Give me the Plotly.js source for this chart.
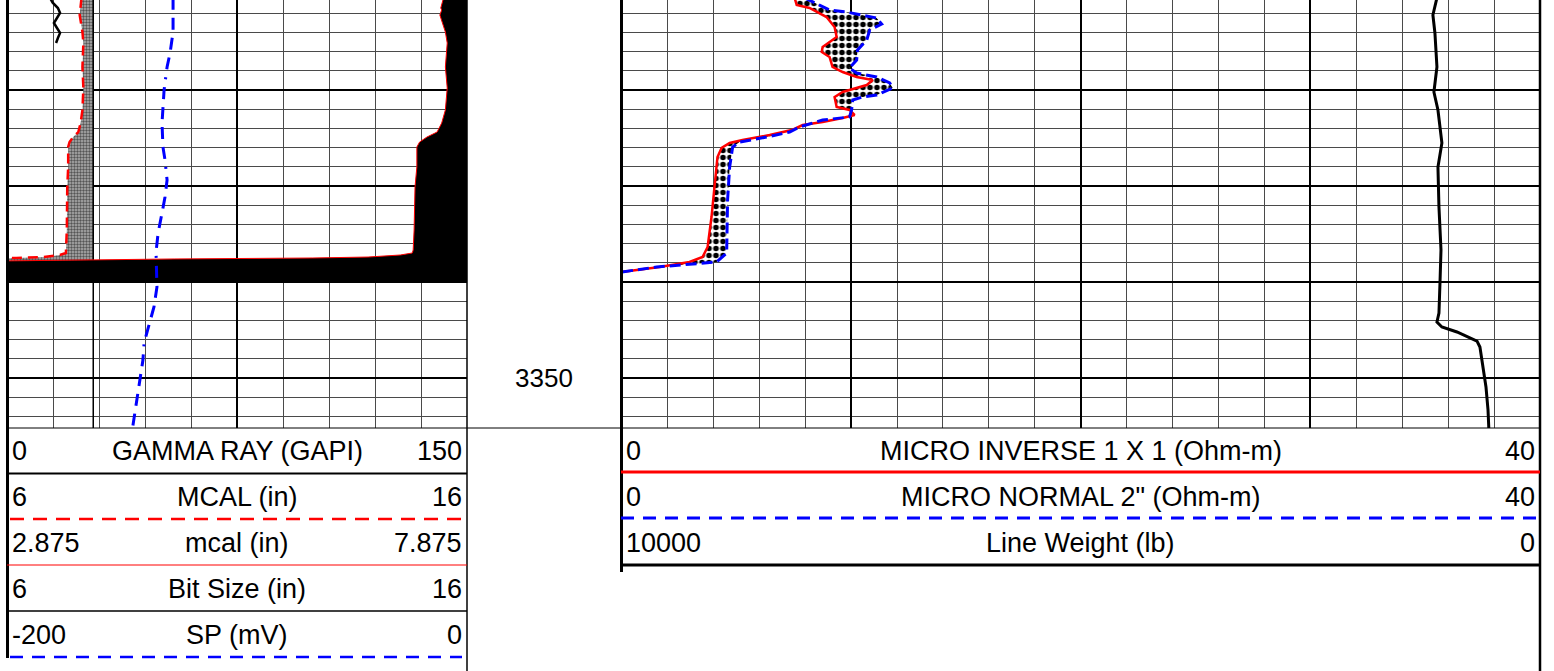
<!DOCTYPE html>
<html><head><meta charset="utf-8">
<script src="https://cdn.plot.ly/plotly-3.0.1.min.js"></script>
<style>html,body{margin:0;padding:0;background:#fff;overflow:hidden}#chart{width:1554px;height:671px}</style>
</head><body><div id="chart"></div>
<script>
// ---------------- data ----------------
var gammaDepth = [3310.4, 3310.9, 3311.46, 3311.98, 3312.5, 3313.02, 3313.54, 3314.06, 3314.58, 3315.1];
var gammaValue = [14.0, 14.9, 16.6, 17.3, 16.3, 15.3, 16.3, 17.3, 16.6, 16.0];

var calDepth = [3310.4, 3311.46, 3311.67, 3312.19, 3313.96, 3315.10, 3317.60, 3319.79, 3322.08, 3323.44, 3324.38, 3324.90, 3325.42, 3325.94, 3328.02, 3330.10, 3334.58, 3336.67, 3336.98, 3337.19, 3337.40, 3337.50, 3337.60, 3337.71, 3337.81, 3340.10];
var calValue = [7.62, 7.59, 7.60, 7.58, 7.64, 7.66, 7.64, 7.66, 7.64, 7.60, 7.55, 7.44, 7.36, 7.33, 7.33, 7.31, 7.30, 7.29, 7.28, 7.15, 6.80, 6.20, 4.70, 3.60, 2.80, 2.70];

var bitDepth = [3310.4, 3355.5];
var bitValue = [7.875, 7.875];

var spDepth = [3310.4, 3313.96, 3316.15, 3317.60, 3320.0, 3321.77, 3323.44, 3325.94, 3327.29, 3329.38, 3331.15, 3332.81, 3334.90, 3336.88, 3340.52, 3342.60, 3345.00, 3346.35, 3348.13, 3350.21, 3352.29, 3354.69, 3355.5];
var spValue = [-127.8, -127.8, -129.1, -130.4, -131.7, -132.2, -132.6, -132.2, -131.3, -130.4, -131.3, -132.6, -134.3, -135.2, -134.8, -136.1, -138.7, -140.4, -140.9, -142.2, -143.5, -145.2, -145.6];

var minvDepth = [3310.4, 3311.15, 3311.46, 3312.40, 3313.44, 3314.48, 3315.52, 3316.04, 3316.56, 3317.60, 3318.13, 3318.65, 3318.96, 3319.48, 3320.21, 3320.73, 3321.77, 3322.08, 3322.60, 3322.92, 3323.33, 3323.65, 3324.17, 3324.69, 3325.21, 3325.52, 3326.04, 3326.98, 3330.10, 3333.23, 3336.35, 3337.40, 3337.92, 3338.44, 3338.96];
var minvValue = [7.54, 7.63, 8.19, 8.93, 9.28, 9.37, 8.76, 8.72, 9.06, 9.19, 9.63, 10.24, 10.94, 10.68, 9.63, 9.28, 9.37, 9.93, 10.15, 9.63, 8.76, 7.89, 7.41, 6.45, 5.27, 4.71, 4.36, 4.18, 4.05, 3.92, 3.75, 3.53, 2.96, 1.66, 0.0];

var mnorDepth = [3310.4, 3311.67, 3311.88, 3312.19, 3312.50, 3313.13, 3313.75, 3314.79, 3315.83, 3316.88, 3317.71, 3318.23, 3318.65, 3319.27, 3319.79, 3320.52, 3320.73, 3321.04, 3322.08, 3322.81, 3323.13, 3323.85, 3324.38, 3324.90, 3325.42, 3325.94, 3328.02, 3331.46, 3336.98, 3337.92, 3338.23, 3338.44, 3338.96];
var mnorValue = [7.97, 9.06, 9.80, 10.50, 11.11, 11.33, 10.81, 10.68, 10.28, 10.24, 9.93, 10.24, 11.11, 11.68, 11.81, 11.11, 10.50, 10.07, 10.02, 9.93, 8.76, 7.76, 7.32, 6.32, 5.14, 4.84, 4.71, 4.62, 4.58, 4.14, 2.66, 1.53, 0.0];

var lwDepth = [3310.4, 3311.35, 3312.19, 3314.06, 3317.60, 3320.21, 3322.08, 3325.52, 3328.02, 3332.19, 3336.67, 3340.10, 3343.23, 3344.17, 3344.69, 3345.21, 3346.15, 3346.77, 3348.85, 3350.94, 3353.33, 3355.5];
var lwValue = [1122, 1144, 1166, 1144, 1122, 1155, 1111, 1068, 1111, 1100, 1078, 1089, 1100, 1122, 1068, 904, 686, 654, 621, 588, 566, 556];

// scales
var gammaScale = [0, 150];
var mcalBigScale = [6, 16];
var mcalSmallScale = [2.875, 7.875];
var spScale = [-200, 0];
var microScale = [0, 40];
var lwScale = [10000, 0];
var depthRange = [3355.21, 3310.625];
var depthLabels = [3350];

// header labels
var leftLo = ['0', '6', '2.875', '6', '-200'];
var leftNames = ['GAMMA RAY (GAPI)', 'MCAL (in)', 'mcal (in)', 'Bit Size (in)', 'SP (mV)'];
var leftHi = ['150', '16', '7.875', '16', '0'];
var rightLo = ['0', '0', '10000'];
var rightNames = ['MICRO INVERSE 1 X 1 (Ohm-m)', 'MICRO NORMAL 2" (Ohm-m)', 'Line Weight (lb)'];
var rightHi = ['40', '40', '0'];

// ---------------- layout helpers ----------------
var W = 1554, H = 671;
function px(x) { return x / W; }
function py(y) { return 1 - y / H; }
var FONT = 'Liberation Sans, Arial, sans-serif';
var MINOR = '#4a4a4a';

var traces = [
  {x: gammaValue, y: gammaDepth, xaxis: 'x', yaxis: 'y', mode: 'lines', line: {color: '#000', width: 2.5}, hoverinfo: 'skip'},
  {x: calDepth.map(function(){return bitValue[0];}), y: calDepth, xaxis: 'x2', yaxis: 'y', mode: 'lines', line: {width: 0}, hoverinfo: 'skip'},
  {x: calValue, y: calDepth, xaxis: 'x2', yaxis: 'y', mode: 'lines', fill: 'tonextx', fillcolor: '#8c8c8c',
   fillpattern: {shape: '.', size: 3, solidity: 0.5, fgcolor: '#555', bgcolor: '#b0b0b0'},
   line: {color: '#ff0000', width: 2.5, dash: '10px,6px'}, hoverinfo: 'skip'},
  {x: bitValue, y: bitDepth, xaxis: 'x2', yaxis: 'y', mode: 'lines', line: {color: '#000', width: 1.5}, hoverinfo: 'skip'},
  {x: calDepth.map(function(){return mcalSmallScale[1];}), y: calDepth, xaxis: 'x3', yaxis: 'y', mode: 'lines', line: {width: 0}, hoverinfo: 'skip'},
  {x: calValue, y: calDepth, xaxis: 'x3', yaxis: 'y', mode: 'lines', fill: 'tonextx', fillcolor: '#000', line: {color: '#ff0000', width: 1}, hoverinfo: 'skip'},
  {x: spValue, y: spDepth, xaxis: 'x4', yaxis: 'y', mode: 'lines', line: {color: '#0000ff', width: 3, dash: '12px,8px,12px,8px,12px,8px,12px,8px,2px,8px'}, hoverinfo: 'skip'},
  {x: minvValue, y: minvDepth, xaxis: 'x5', yaxis: 'y2', mode: 'lines', line: {color: '#ff0000', width: 2.5}, hoverinfo: 'skip'},
  {x: mnorValue, y: mnorDepth, xaxis: 'x5', yaxis: 'y2', mode: 'lines', fill: 'tonextx', fillcolor: '#fff',
   fillpattern: {shape: '.', size: 7, solidity: 0.5, fgcolor: '#000', bgcolor: '#fff'},
   line: {color: '#0000ff', width: 3, dash: '11px,5px'}, hoverinfo: 'skip'},
  {x: lwValue, y: lwDepth, xaxis: 'x6', yaxis: 'y2', mode: 'lines', line: {color: '#000', width: 3}, hoverinfo: 'skip'}
];

function gridAxis(extra) {
  var a = {showticklabels: false, ticks: '', zeroline: false, showline: false, showgrid: true,
    gridcolor: '#000', gridwidth: 2, fixedrange: true};
  for (var k in extra) a[k] = extra[k];
  return a;
}
var hidden = function(extra){ var a = {visible: false, fixedrange: true, showgrid: false, zeroline: false}; for (var k in extra) a[k] = extra[k]; return a; };

var yDomain = [py(428), 1];
var layout = {
  width: W, height: H, margin: {l: 0, r: 0, t: 0, b: 0},
  paper_bgcolor: '#fff', plot_bgcolor: 'rgba(0,0,0,0)', showlegend: false,
  xaxis: gridAxis({domain: [px(7), px(467)], range: gammaScale, anchor: 'y', tick0: 0, dtick: 75,
    minor: {tick0: 0, dtick: 15, showgrid: true, gridcolor: MINOR, gridwidth: 1, ticks: ''}}),
  xaxis2: hidden({overlaying: 'x', anchor: 'y', range: mcalBigScale}),
  xaxis3: hidden({overlaying: 'x', anchor: 'y', range: mcalSmallScale}),
  xaxis4: hidden({overlaying: 'x', anchor: 'y', range: spScale}),
  xaxis5: gridAxis({domain: [px(621.5), px(1540)], range: microScale, anchor: 'y2', tick0: 0, dtick: 10,
    minor: {tick0: 0, dtick: 2, showgrid: true, gridcolor: MINOR, gridwidth: 1, ticks: ''}}),
  xaxis6: hidden({overlaying: 'x5', anchor: 'y2', range: lwScale}),
  yaxis: gridAxis({domain: yDomain, range: depthRange, anchor: 'x', tick0: 3300, dtick: 10,
    minor: {tick0: 3300, dtick: 2, showgrid: true, gridcolor: MINOR, gridwidth: 1, ticks: ''}}),
  yaxis2: gridAxis({domain: yDomain, range: depthRange, anchor: 'x5', tick0: 3300, dtick: 10,
    minor: {tick0: 3300, dtick: 2, showgrid: true, gridcolor: MINOR, gridwidth: 1, ticks: ''}}),
  shapes: [],
  annotations: []
};

function hline(x0, x1, y, color, width, dash) {
  layout.shapes.push({type: 'line', xref: 'paper', yref: 'paper', x0: px(x0), x1: px(x1), y0: py(y), y1: py(y),
    line: {color: color, width: width, dash: dash || 'solid'}});
}
function vline(x, y0, y1, color, width) {
  layout.shapes.push({type: 'line', xref: 'paper', yref: 'paper', x0: px(x), x1: px(x), y0: py(y0), y1: py(y1),
    line: {color: color, width: width}});
}
// borders
vline(7.5, 0, 658, '#000', 3);
vline(467, 0, 671, '#000', 1.5);
vline(621.5, 0, 572, '#000', 3);
vline(1540, 0, 671, '#000', 2.5);
hline(7, 1540, 428, '#000', 1);
// left header sample lines
hline(7, 467, 473.5, '#000', 2);
hline(10, 467, 519, '#ff0000', 2.5, '14px,9px');
hline(7, 467, 565, '#ff0000', 1);
hline(7, 467, 611, '#000', 1.5);
hline(10, 462, 657, '#0000ff', 2.5, '13px,9px');
// right header sample lines
hline(621, 1540, 472, '#ff0000', 3);
hline(621, 1540, 518, '#0000ff', 3, '13px,9px');
hline(621, 1540, 565, '#000', 3);

function ann(x, y, text, anchor) {
  layout.annotations.push({xref: 'paper', yref: 'paper', x: px(x), y: py(y), text: text, showarrow: false,
    xanchor: anchor, yanchor: 'middle', font: {family: FONT, size: 27, color: '#000'}});
}
var rowsY = [451, 497, 543, 589, 635];
for (var i = 0; i < leftNames.length; i++) {
  ann(10, rowsY[i], leftLo[i], 'left');
  ann(237, rowsY[i], leftNames[i], 'center');
  ann(464, rowsY[i], leftHi[i], 'right');
}
for (var j = 0; j < rightNames.length; j++) {
  ann(624, rowsY[j], rightLo[j], 'left');
  ann(1080.5, rowsY[j], rightNames[j], 'center');
  ann(1537, rowsY[j], rightHi[j], 'right');
}
depthLabels.forEach(function(d) {
  layout.annotations.push({xref: 'paper', yref: 'y', x: px(544), y: d, text: String(d), showarrow: false,
    xanchor: 'center', yanchor: 'middle', font: {family: FONT, size: 26, color: '#000'}});
});

Plotly.newPlot('chart', traces, layout, {displayModeBar: false, staticPlot: true});
</script></body></html>
